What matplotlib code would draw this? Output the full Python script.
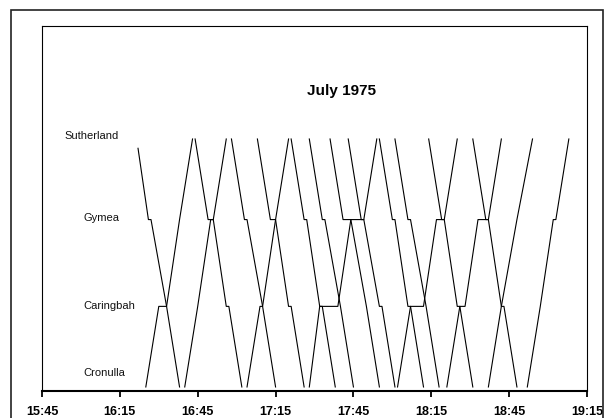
import matplotlib
matplotlib.use("Agg")
import matplotlib.pyplot as plt
from matplotlib.patches import Rectangle

plt.rcParams['font.family'] = ['Liberation Sans', 'DejaVu Sans']

# stations and their distance from Sutherland (km)
stations = ["Sutherland", "Gymea", "Caringbah", "Cronulla"]
station_km = [0.0, 2.6, 5.4, 8.0]

# down trains: Sutherland dep, Gymea arr, Gymea dep, Caringbah arr, Caringbah dep, Cronulla arr
down_trains = [
    ["16:22", "16:26", "16:27", "16:33", "16:33", "16:38"],
    ["16:44", "16:49", "16:51", "16:56", "16:57", "17:02"],
    ["16:58", "17:03", "17:04", "17:10", "17:10", "17:15"],
    ["17:08", "17:13", "17:15", "17:20", "17:21", "17:26"],
    ["17:21", "17:26", "17:27", "17:32", "17:33", "17:38"],
    ["17:28", "17:33", "17:34", "17:40", "17:40", "17:45"],
    ["17:36", "17:41", "17:44", "17:50", "17:50", "17:55"],
    ["17:43", "17:48", "17:49", "17:55", "17:56", "18:01"],
    ["17:55", "18:00", "18:01", "18:06", "18:07", "18:12"],
    ["18:01", "18:06", "18:07", "18:13", "18:13", "18:18"],
    ["18:14", "18:19", "18:20", "18:25", "18:26", "18:31"],
    ["18:31", "18:36", "18:37", "18:42", "18:43", "18:48"],
]
first_down_start_km = 0.3  # first service is shown from just past Sutherland

# up trains: Cronulla dep, Caringbah arr, Caringbah dep, Gymea arr, Gymea dep, Sutherland arr
up_trains = [
    ["16:25", "16:30", "16:33", "16:38", "16:38", "16:43"],
    ["16:40", "16:45", "16:45", "16:50", "16:51", "16:56"],
    ["17:04", "17:09", "17:10", "17:15", "17:15", "17:20"],
    ["17:28", "17:32", "17:39", "17:44", "17:49", "17:54"],
    ["18:02", "18:07", "18:12", "18:17", "18:20", "18:25"],
    ["18:21", "18:26", "18:28", "18:33", "18:37", "18:42"],
    ["18:37", "18:42", "18:42", "18:48", "18:48", "18:54"],
    ["18:52", "18:57", "18:57", "19:02", "19:03", "19:08"],
]

tick_times = ["15:45", "16:15", "16:45", "17:15", "17:45", "18:15", "18:45", "19:15"]


def mins(s):
    h, m = s.split(":")
    return int(h) * 60 + int(m)


fig = plt.figure(figsize=(6.11, 4.18), dpi=100)
ax = fig.add_axes([42 / 611, 27 / 418, 545 / 611, 365 / 418])

S, G, C, Cr = station_km
down_y = [S, G, G, C, C, Cr]
up_y = [Cr, C, C, G, G, S]

for i, tr in enumerate(down_trains):
    ys = list(down_y)
    if i == 0:
        ys[0] = first_down_start_km
    ax.plot([mins(t) for t in tr], ys, color='black', lw=0.8)

for tr in up_trains:
    ax.plot([mins(t) for t in tr], up_y, color='black', lw=0.8)

# station names written inside the plot area
label_x = [mins("15:53") + 0.5, mins("16:00") + 0.8, mins("16:00") + 0.8, mins("16:00") + 0.8]
label_dy = [-0.1, -0.06, 0.0, -0.44]
for name, x, y, dy in zip(stations, label_x, station_km, label_dy):
    ax.text(x, y + dy, name, fontsize=8, ha='left', va='center', color='#111111')

ax.text(0.55, 0.822, "July 1975", transform=ax.transAxes, fontsize=11,
        fontweight='bold', ha='center', va='center')

ax.set_xlim(mins("15:45"), mins("19:15"))
ax.set_ylim(8.13, -3.645)
ax.set_xticks([mins(t) for t in tick_times])
ax.set_xticklabels(tick_times, fontsize=9, fontweight='bold')
ax.set_yticks([])
ax.tick_params(axis='x', direction='out', length=4.5, width=1.3, pad=6)

for side in ['top', 'right', 'left']:
    ax.spines[side].set_linewidth(0.8)
ax.spines['bottom'].set_linewidth(1.5)

# frame round the whole chart
fig.patches.append(Rectangle((10.5 / 611, -0.02), 592.5 / 611, 1.02 - 10 / 418,
                             transform=fig.transFigure, fill=False,
                             edgecolor='#222222', lw=1.2))

fig.savefig("out.png", dpi=100)
